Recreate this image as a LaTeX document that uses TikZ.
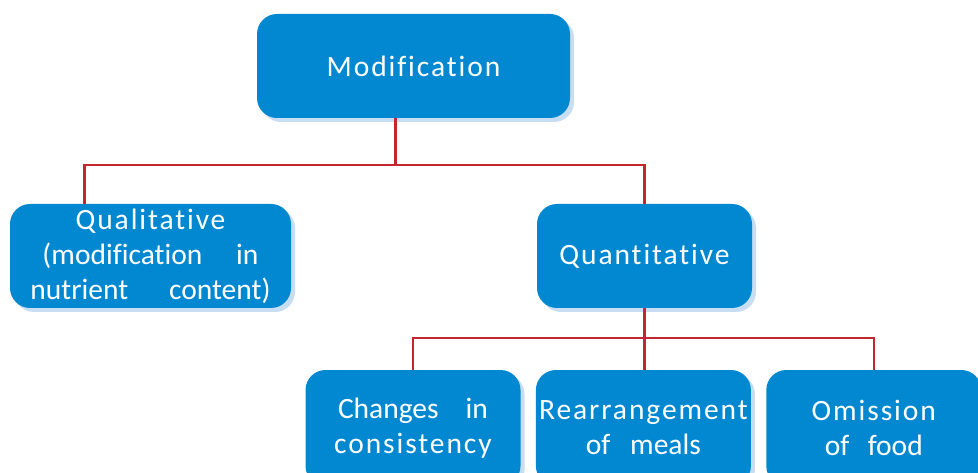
\documentclass[tikz,border=0pt]{standalone}
\usepackage{fontspec}
\setmainfont{Carlito}[Ligatures={NoCommon}]
\newfontfamily\spaced{Carlito}[LetterSpace=6.5,Ligatures={NoCommon}]
\usetikzlibrary{positioning,shadows}
\definecolor{boxblue}{HTML}{0288D1}
\definecolor{shadeblue}{HTML}{C7DDF1}
\definecolor{linkred}{HTML}{C1272D}

\begin{document}
\begin{tikzpicture}[x=1pt,y=-1pt,node distance=15pt,
    box/.style={rounded corners=20pt,fill=boxblue,text=white,align=center,
      minimum width=215pt,minimum height=104pt,inner sep=0pt,
      font=\fontsize{29.5}{35}\selectfont,
      copy shadow={shadow xshift=4pt,shadow yshift=-4pt,fill=shadeblue,draw=none}},
    leaf/.style={box,minimum height=116pt},
    link/.style={draw=linkred,line width=2.2pt}]
    \useasboundingbox (0,0) rectangle (978,473);
    \clip (0,0) rectangle (978,473);
    % boxes
    \node[box,minimum width=313pt] (mod) at (413.5,66) {{\spaced Modification}};
    \node[box,minimum width=281pt] (qual) at (150.5,256) {{\spaced Qualitative}\\
      \makebox[216pt][s]{(modification\hfill in}\\
      \makebox[240pt][s]{nutrient\hfill content)}};
    \node[box] (quan) at (644.5,256) {{\spaced Quantitative}};
    \node[leaf] (chg) at (413,428) {\makebox[150pt][s]{Changes\hfill in}\\{\spaced consistency}};
    \node[leaf,right=of chg] (rea) {{\spaced Rearrangement}\\\makebox[115pt][s]{of\hfill meals}};
    \node[leaf,right=of rea] (omi) {{\spaced Omission}\\\makebox[98pt][s]{of\hfill food}};
    % connectors
    \coordinate (top) at ([xshift=-18pt]mod.south);
    \draw[link] (top) -- ++(0,47) coordinate (bus);
    \draw[link] ([xshift=-66pt]qual.north) |- (bus) -| (quan.north);
    \draw[link] (quan.south) -- (quan.south |- rea.north);
    \draw[link] (chg.north) |- ([yshift=-30pt]quan.south) -| (omi.north);
  \end{tikzpicture}
\end{document}
